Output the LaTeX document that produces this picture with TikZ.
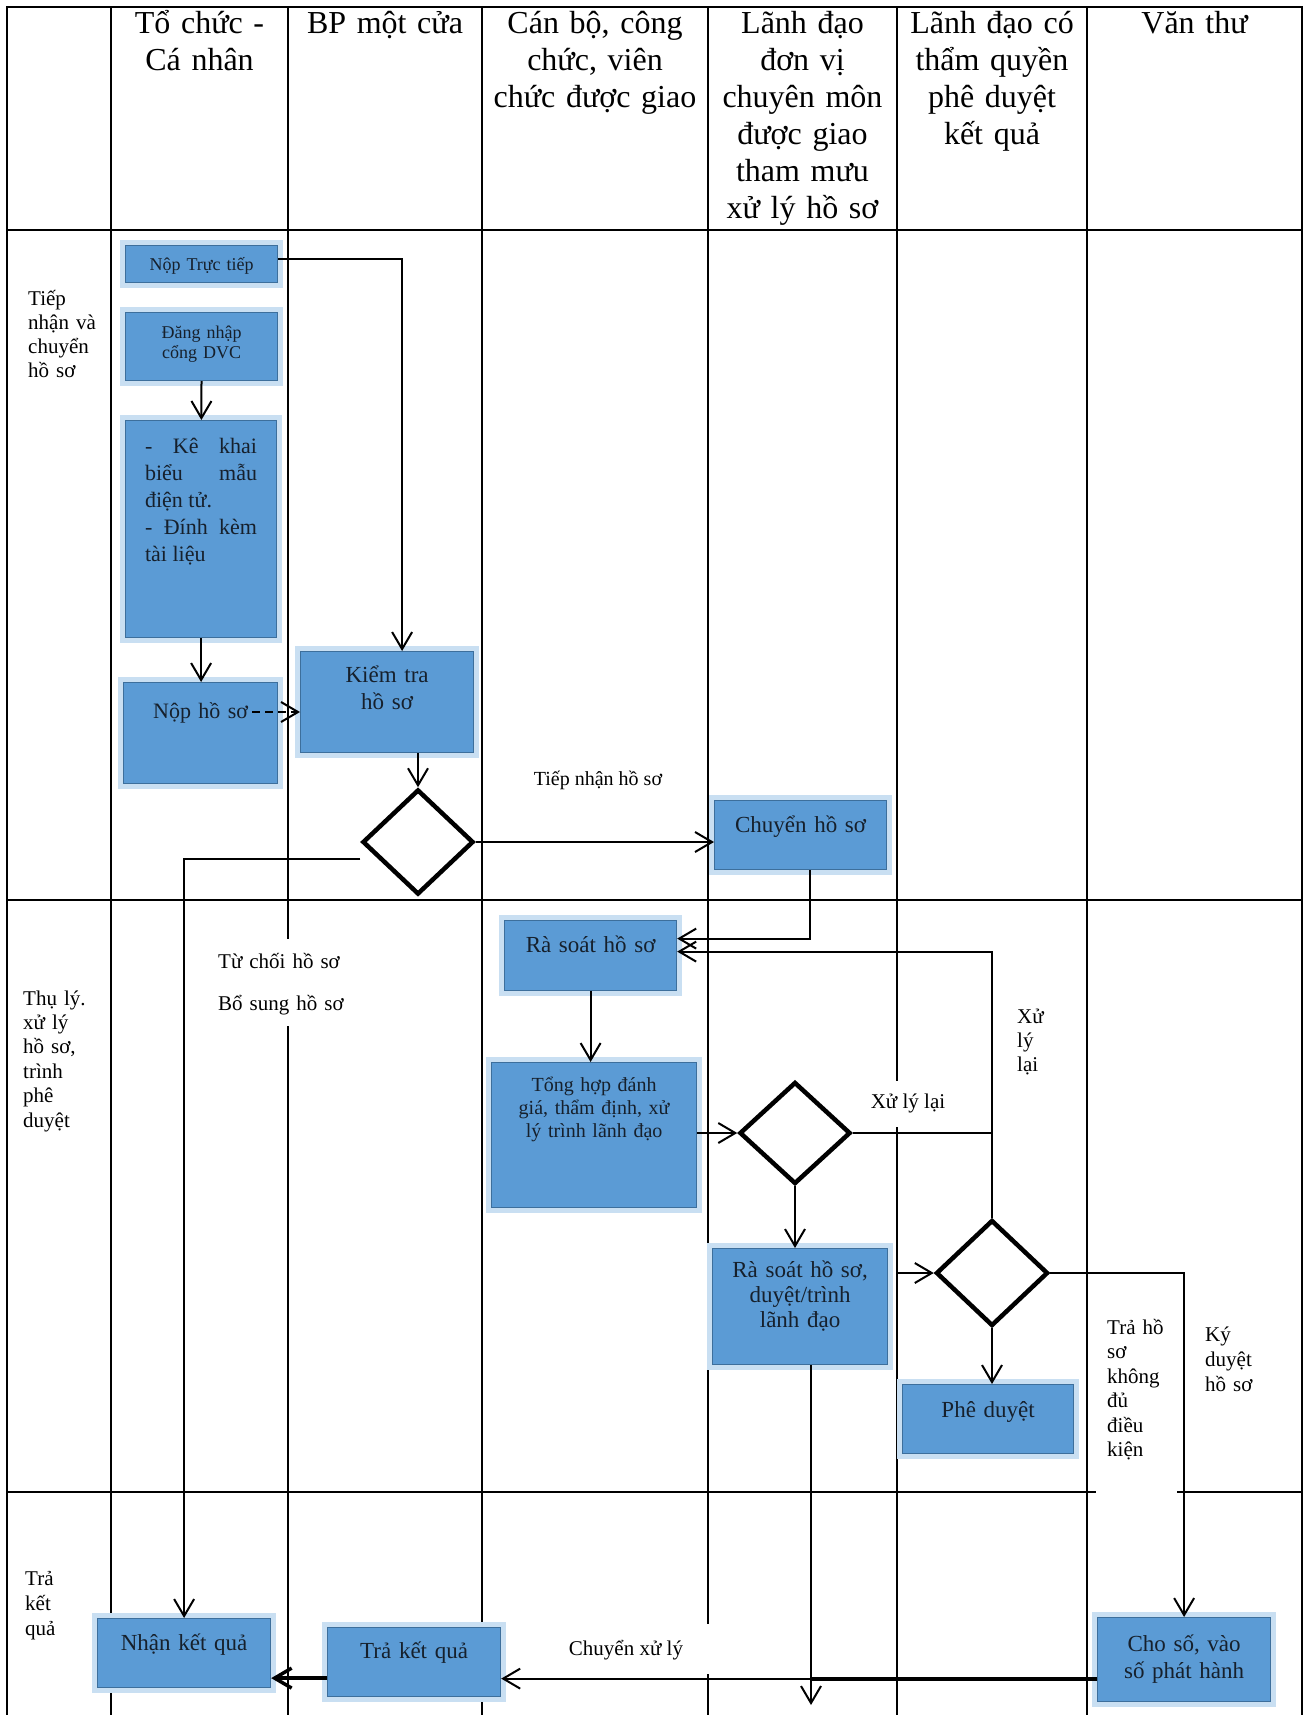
\documentclass[tikz,border=0pt]{standalone}
\usepackage{fontspec}
\setmainfont{Liberation Serif}
\usetikzlibrary{arrows.meta,shapes.geometric,calc}
\definecolor{boxblue}{HTML}{5B9BD5}
\definecolor{boxglow}{HTML}{C9DFF2}
\definecolor{boxedge}{HTML}{3D6F9C}
\definecolor{boxtext}{HTML}{16202C}
\newcommand\fsz[2]{\fontsize{#1}{#2}\selectfont}

\begin{document}
\begin{tikzpicture}[
    x=1pt, y=-1pt, >={Straight Barb[length=17pt,width=20pt]},
    lane/.style={line width=2pt, line cap=rect},
    flow/.style={line width=2pt},
    box/.style={rectangle, anchor=north west, inner sep=0pt, align=center,
      fill=boxblue, draw=boxedge, line width=1.2pt, text=boxtext, font=\fsz{23}{26},
      preaction={draw=boxglow, line width=11pt}},
    decision/.style={diamond, draw, fill=white, line width=4.5pt, inner sep=0pt},
    lbl/.style={inner sep=0pt, anchor=base west, align=left, text width=90pt, font=\fsz{21}{24}},
    hd/.style={inner sep=0pt, anchor=base, align=center, font=\fsz{32}{37}}]
  \useasboundingbox (0,0) rectangle (1304,1715);
  % swimlane grid
  \foreach \y in {7,230,900} \draw[lane] (7,\y) -- (1302,\y);
  \draw[lane] (7,1492) -- (1095,1492) (1178,1492) -- (1302,1492);
  \foreach \x in {7,111,482,1087,1302} \draw[lane] (\x,7) -- (\x,1715);
  \draw[lane] (288,7) -- (288,938) (288,1027) -- (288,1715);
  \draw[lane] (708,7) -- (708,1623) (708,1675) -- (708,1715);
  \draw[lane] (897,7) -- (897,1080) (897,1128) -- (897,1715);

  % lane headers
  \node[hd, text width=170pt] (h1) at (199.5,34) {Tổ chức -\\Cá nhân};
  \node[hd, text width=188pt] (h2) at (385,34) {BP một cửa};
  \node[hd, text width=222pt] (h3) at (595,34) {Cán bộ, công\\chức, viên\\chức được giao};
  \node[hd, text width=186pt] (h4) at (802.5,34) {Lãnh đạo\\đơn vị\\chuyên môn\\được giao\\tham mưu\\xử lý hồ sơ};
  \node[hd, text width=186pt] (h5) at (992,34) {Lãnh đạo có\\thẩm quyền\\phê duyệt\\kết quả};
  \node[hd, text width=210pt] (h6) at (1194.5,34) {Văn thư};

  % row labels
  \node[lbl] (rowa) at (28,305) {Tiếp\\nhận và\\chuyển\\hồ sơ};
  \node[lbl, font=\fsz{21}{24.4}] (rowb) at (23,1005) {Thụ lý.\\xử lý\\hồ sơ,\\trình\\phê\\duyệt};
  \node[lbl, font=\fsz{21}{25}] (rowc) at (25,1585) {Trả\\kết\\quả};

  % steps
  \node[box, text width=152pt, text height=25pt, text depth=12pt, font=\fsz{18}{20}] (noptt) at (125,245) {Nộp Trực tiếp};
  \node[box, text width=152pt, text height=26pt, text depth=42pt, font=\fsz{18}{20}] (dangnhap) at (125,312) {Đăng nhập\\cổng DVC};
  \node[box, inner xsep=19.5pt, text width=112pt, text height=33pt, text depth=184pt, align=justify, font=\fsz{22}{27}] (kekhai) at (125,420) {- Kê khai biểu mẫu điện tử.\\- Đính kèm tài liệu};
  \node[box, text width=154pt, text height=36pt, text depth=65pt, font=\fsz{22}{26}] (nophs) at (123,682) {Nộp hồ sơ};
  \node[box, text width=173pt, text height=31pt, text depth=70pt, font=\fsz{23}{27}] (kiemtra) at (300,651) {Kiểm tra\\hồ sơ};
  \node[decision, minimum width=111pt, minimum height=105pt] (dia1) at (418,842) {};
  \node[box, text width=172pt, text height=32pt, text depth=37pt] (chuyen) at (714,800) {Chuyển hồ sơ};
  \node[box, text width=172pt, text height=32pt, text depth=38pt] (rasoat) at (504,920) {Rà soát hồ sơ};
  \node[box, text width=205pt, text height=29pt, text depth=116pt, font=\fsz{20}{23}] (tonghop) at (491,1062) {Tổng hợp đánh\\giá, thẩm định, xử\\lý trình lãnh đạo};
  \node[decision, minimum width=111pt, minimum height=102pt] (dia2) at (795,1133) {};
  \node[box, text width=175pt, text height=29pt, text depth=87pt, font=\fsz{23}{25}] (rasoat2) at (712,1248) {Rà soát hồ sơ,\\duyệt/trình\\lãnh đạo};
  \node[decision, minimum width=112pt, minimum height=106pt] (dia3) at (992,1273) {};
  \node[box, text width=171pt, text height=33pt, text depth=36pt] (pheduyet) at (902,1384) {Phê duyệt};
  \node[box, text width=173pt, text height=32pt, text depth=37pt] (nhankq) at (97,1618) {Nhận kết quả};
  \node[box, text width=173pt, text height=31pt, text depth=38pt] (trakq) at (327,1627) {Trả kết quả};
  \node[box, text width=173pt, text height=34pt, text depth=50pt, font=\fsz{23}{27}] (choso) at (1097,1617) {Cho số, vào\\số phát hành};

  % connector labels
  \node[anchor=base, inner sep=0pt, font=\fsz{20}{24}] (tiepnhan) at (598,785) {Tiếp nhận hồ sơ};
  \node[lbl, text width=140pt] (tuchoi) at (218,968) {Từ chối hồ sơ\\[18pt]Bổ sung hồ sơ};
  \node[anchor=base, inner sep=0pt, font=\fsz{21}{24}] (xulylai) at (908,1108) {Xử lý lại};
  \node[lbl] (xulylai2) at (1017,1023) {Xử\\lý\\lại};
  \node[lbl, font=\fsz{21}{24.5}] (trahs) at (1107,1334) {Trả hồ\\sơ\\không\\đủ\\điều\\kiện};
  \node[lbl, font=\fsz{21}{25}] (kyduyet) at (1205,1341) {Ký\\duyệt\\hồ sơ};
  \node[anchor=base, inner sep=0pt, font=\fsz{21}{24}] (chuyenxl) at (626,1655) {Chuyển xử lý};

  % connectors
  \draw[flow,->] ([yshift=5pt]noptt.east) -| ([xshift=15pt]kiemtra.north);
  \draw[flow,->] (dangnhap) -- (kekhai);
  \draw[flow,->] (kekhai.south) -- (kekhai.south |- nophs.north);
  \coordinate (nophsr) at (252,712);
  \draw[flow,dash pattern=on 8pt off 5pt,->] (nophsr) -- (nophsr -| kiemtra.west);
  \draw[flow,->] (kiemtra.south -| dia1.north) -- (dia1.north);
  \draw[flow,->] (dia1.east) -- (dia1.east -| chuyen.west);
  \draw[flow,->] ([yshift=-17pt]dia1.west) -| (nhankq.north);
  \draw[flow,->] ([xshift=9pt]chuyen.south) |- ([yshift=17pt]rasoat.east);
  \draw[flow,->] (dia3.north) |- ([yshift=4pt]rasoat.east);
  \draw[flow,->] (rasoat.south) -- (rasoat.south |- tonghop.north);
  \draw[flow,->] (tonghop.east |- dia2.west) -- (dia2.west);
  \draw[flow] (dia2.east) -- (dia2.east -| dia3.north);
  \draw[flow,->] (dia2.south) -- (dia2.south |- rasoat2.north);
  \coordinate (r2out) at (898,1273);
  \draw[flow,->] (r2out) -- (dia3.west);
  \draw[flow,->] (dia3.south) -- (dia3.south |- pheduyet.north);
  \draw[flow,->] (dia3.east) -| (choso.north);
  \coordinate (r2end) at (811,1705);
  \draw[flow,->] (r2end |- rasoat2.south) -- (r2end);
  \coordinate (choout) at ([yshift=-19pt]choso.west);
  \draw[flow,->] (choout) -- (choout -| trakq.east);
  \draw[line width=4pt] (choout) -- (choout -| r2end);
  \coordinate (trkout) at ([yshift=-16pt]trakq.west);
  \draw[line width=3.5pt,->] (trkout) -- (trkout -| nhankq.east);
\end{tikzpicture}
\end{document}
